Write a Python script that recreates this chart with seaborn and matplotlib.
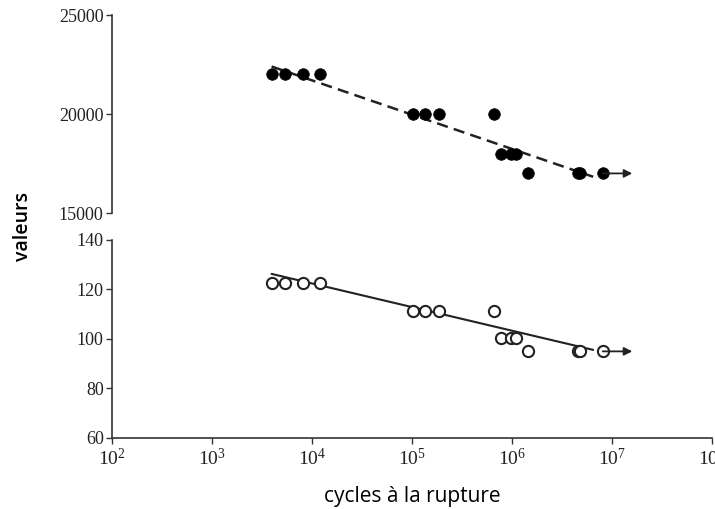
import numpy as np
import pandas as pd
import matplotlib.pyplot as plt
import seaborn as sns
from matplotlib.ticker import LogLocator, LogFormatterMathtext, NullLocator

# Values
cycles = [4.0e3, 5.4e3, 8.2e3, 1.2e4, 1.03e5, 1.35e5, 1.87e5, 6.6e5,
          7.7e5, 9.8e5, 1.1e6, 1.45e6, 4.6e6, 4.8e6, 8.1e6]
top_vals = [22000, 22000, 22000, 22000, 20000, 20000, 20000, 20000,
            18000, 18000, 18000, 17000, 17000, 17000, 17000]
bottom_vals = [122.5, 122.5, 122.5, 122.5, 111.5, 111.5, 111.5, 111.5,
               100.5, 100.5, 100.5, 95, 95, 95, 95]

# trend lines (end points) and run-out arrow
fit_x = [3.95e3, 6.5e6]
fit_top = [22400, 16830]
fit_bottom = [126.3, 95.6]
runout_x = [8.1e6, 1.6e7]
runout_top = [17000, 17000]
runout_bottom = [95, 95]

top_ticks = [15000, 20000, 25000]
bottom_ticks = [60, 80, 100, 120, 140]

df = pd.DataFrame({'cycles': cycles, 'top': top_vals, 'bottom': bottom_vals})
fit = pd.DataFrame({'x': fit_x, 'top': fit_top, 'bottom': fit_bottom})

sns.set_style('white')
plt.rcParams['font.family'] = ['Liberation Serif', 'DejaVu Serif']
plt.rcParams['mathtext.fontset'] = 'stix'
plt.rcParams['text.color'] = '#111111'

fig = plt.figure(figsize=(7.15, 5.09), dpi=100)
ax1 = fig.add_axes([0.1566, 0.5815, 0.839, 0.389])
ax2 = fig.add_axes([0.1566, 0.1395, 0.839, 0.389], sharex=ax1)

# top panel: filled markers, dashed line
sns.lineplot(data=fit, x='x', y='top', ax=ax1, color='#222222',
             linestyle=(0, (4.5, 2.5)), linewidth=1.8)
sns.scatterplot(data=df, x='cycles', y='top', ax=ax1, color='black',
                s=70, edgecolor='black', linewidth=0.5, zorder=3)
ax1.annotate('', xy=(runout_x[1], runout_top[1]), xytext=(runout_x[0], runout_top[0]),
             arrowprops=dict(arrowstyle='-|>', color='#222222', lw=1.3,
                             mutation_scale=12, shrinkA=0, shrinkB=0))

# bottom panel: open markers, solid line
sns.lineplot(data=fit, x='x', y='bottom', ax=ax2, color='#222222', linewidth=1.5)
sns.scatterplot(data=df, x='cycles', y='bottom', ax=ax2, facecolor='white',
                edgecolor='#222222', s=65, linewidth=1.5, zorder=3)
ax2.annotate('', xy=(runout_x[1], runout_bottom[1]), xytext=(runout_x[0], runout_bottom[0]),
             arrowprops=dict(arrowstyle='-|>', color='#222222', lw=1.3,
                             mutation_scale=12, shrinkA=0, shrinkB=0))

ax1.set_xscale('log')
ax1.set_xlim(1e2, 1e8)
ax1.set_ylim(15000, 25000)
ax2.set_ylim(60, 140)
ax1.set_yticks(top_ticks)
ax2.set_yticks(bottom_ticks)

for ax in (ax1, ax2):
    for side in ['top', 'right']:
        ax.spines[side].set_visible(False)
    ax.spines['left'].set_color('#333333')
    ax.spines['bottom'].set_color('#333333')
    ax.spines['left'].set_linewidth(1.2)
    ax.spines['bottom'].set_linewidth(1.2)
    ax.tick_params(axis='y', labelsize=13, length=4, width=1, direction='out',
                   left=True, color='#333333', labelcolor='#222222', pad=2)
    ax.set_xlabel('')
    ax.set_ylabel('')

ax1.spines['bottom'].set_visible(False)
ax1.tick_params(axis='x', bottom=False, labelbottom=False)

ax2.xaxis.set_major_locator(LogLocator(base=10, numticks=10))
ax2.xaxis.set_major_formatter(LogFormatterMathtext())
ax2.xaxis.set_minor_locator(NullLocator())
ax2.tick_params(axis='x', labelsize=14, length=4, width=1, bottom=True,
                direction='out', color='#333333', labelcolor='#222222', pad=3)

ax2.set_xlabel('cycles à la rupture', fontsize=15, family=['Open Sans', 'DejaVu Sans'],
               labelpad=12, color='black')
fig.text(0.032, 0.555, 'valeurs', rotation=90, va='center', ha='center', color='black',
         fontsize=14, fontweight='semibold', family=['Open Sans', 'DejaVu Sans'])

fig.savefig('out.png', dpi=100)
